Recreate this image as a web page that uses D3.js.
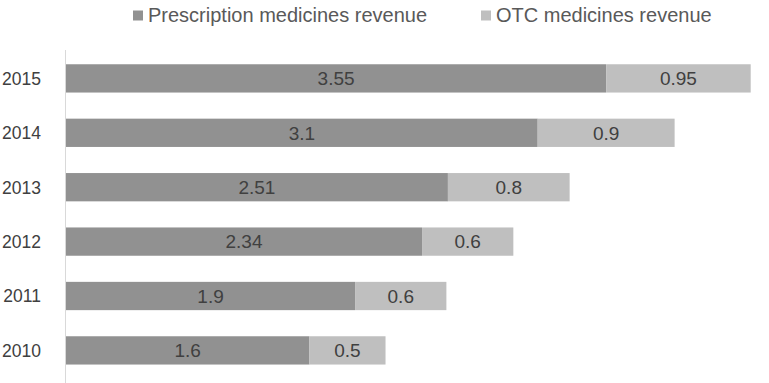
<!DOCTYPE html>
<html>
<head>
<meta charset="utf-8">
<script src="https://cdn.jsdelivr.net/npm/d3@7"></script>
<style>
  html, body { margin: 0; padding: 0; background: #fff; }
  svg { display: block; font-family: "Liberation Sans", Arial, sans-serif; }
</style>
</head>
<body>
<div id="chart"></div>
<script>
// revenue by year, top bar is the latest year
const years = ['2015', '2014', '2013', '2012', '2011', '2010'];
const prescription = [3.55, 3.1, 2.51, 2.34, 1.9, 1.6];
const otc = [0.95, 0.9, 0.8, 0.6, 0.6, 0.5];
const seriesNames = ['Prescription medicines revenue', 'OTC medicines revenue'];
const colors = ['#919191', '#bfbfbf'];

const width = 769, height = 383;

const svg = d3.select('#chart').append('svg')
    .attr('width', width)
    .attr('height', height);

const rows = years.map((y, i) => ({year: y, rx: prescription[i], otc: otc[i]}));
const stacked = d3.stack().keys(['rx', 'otc'])(rows);

const x = d3.scaleLinear().domain([0, 4.5]).range([66, 750.7]);
const y = d3.scaleBand().domain(years).range([51.2, 377.6])
    .paddingInner(0.48).paddingOuter(0.24);

// axis
const axis = svg.append('g')
    .attr('transform', 'translate(65.5,0)')
    .call(d3.axisLeft(y).tickSize(0).tickPadding(24.5));
axis.select('.domain').attr('stroke', '#d9d9d9').attr('d', 'M0,50V383');
axis.selectAll('text')
    .attr('fill', '#404040')
    .attr('dy', '0.36em')
    .style('font-size', '17.5px')
    .style('font-family', '"Liberation Sans", Arial, sans-serif');

// bars
const layers = svg.selectAll('g.layer')
    .data(stacked)
    .enter().append('g')
    .attr('class', 'layer')
    .attr('fill', (d, i) => colors[i]);

layers.selectAll('rect')
    .data(d => d)
    .enter().append('rect')
    .attr('x', d => x(d[0]))
    .attr('y', d => y(d.data.year))
    .attr('width', d => x(d[1]) - x(d[0]))
    .attr('height', y.bandwidth());

layers.selectAll('text')
    .data(d => d)
    .enter().append('text')
    .attr('x', d => (x(d[0]) + x(d[1])) / 2)
    .attr('y', d => y(d.data.year) + y.bandwidth() / 2)
    .attr('dy', '0.36em')
    .attr('text-anchor', 'middle')
    .attr('fill', '#404040')
    .style('font-size', '19px')
    .text(d => +(d[1] - d[0]).toFixed(2));

// legend
const legendX = [133, 481];
const legend = svg.selectAll('g.legend')
    .data(seriesNames)
    .enter().append('g')
    .attr('class', 'legend')
    .attr('transform', (d, i) => 'translate(' + legendX[i] + ',0)');

legend.append('rect')
    .attr('x', 0).attr('y', 10.5)
    .attr('width', 10).attr('height', 10)
    .attr('fill', (d, i) => colors[i]);

legend.append('text')
    .attr('x', 15)
    .attr('y', 22)
    .attr('fill', '#595959')
    .style('font-size', '20px')
    .text(d => d);
</script>
</body>
</html>
